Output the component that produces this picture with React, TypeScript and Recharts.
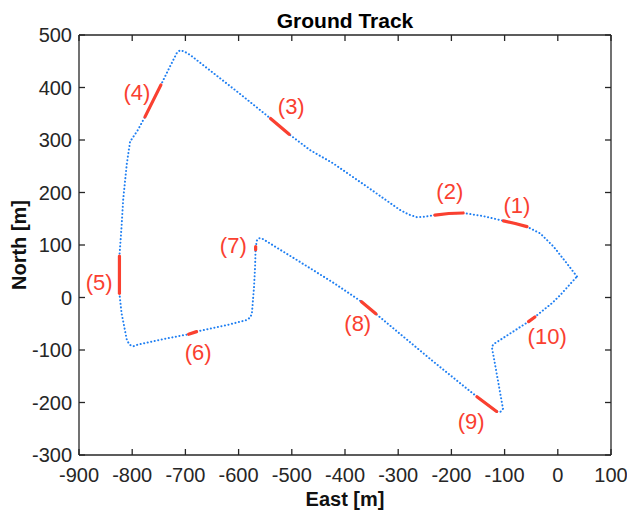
import React from "react";
import {
  ComposedChart,
  Line,
  Scatter,
  XAxis,
  YAxis,
  Label,
} from "recharts";

// ground track, east/north in metres
const trackEast = [
  36, 17, -8, -33, -58, -80, -102, -140, -178, -205, -231, -250, -265, -280, -297, -360, -423, -466,
  -505, -540, -600, -691, -703, -710, -716, -729, -746, -776, -790, -804, -810, -817, -820, -824,
  -824, -820, -810, -805, -798, -790, -740, -694, -679, -620, -585, -578, -575, -571, -569, -568,
  -566, -562, -557, -485, -420, -369, -342, -234, -152, -115, -108, -103, -115, -124, -121, -55,
  -43, -10, 0, 5, 36,
];
const trackNorth = [
  40, 65, 97, 122, 135, 141, 146, 155, 161, 160, 157, 154, 153, 158, 167, 212, 256, 281,
  311, 341, 390, 462, 469, 471, 466, 440, 405, 344, 318, 297, 256, 186, 135, 79,
  8, -30, -81, -90, -93, -90, -79, -70, -65, -52, -43, -38, -30, 20, 59, 94,
  108, 113, 113, 68, 27, -8, -31, -122, -189, -217, -218, -212, -144, -94, -89, -46,
  -37, -10, 0, 5, 40,
];

// highlighted stretches: [east, north] pairs
const seg1 = [[-58, 135], [-80, 141], [-102, 146]];
const seg2 = [[-231, 157], [-205, 160], [-178, 161]];
const seg3 = [[-540, 341], [-505, 311]];
const seg4 = [[-776, 344], [-746, 405]];
const seg5 = [[-824, 79], [-824, 8]];
const seg6 = [[-694, -70], [-679, -65]];
const seg7 = [[-568, 97], [-568, 91]];
const seg8 = [[-369, -8], [-342, -31]];
const seg9 = [[-152, -189], [-115, -217]];
const seg10 = [[-55, -46], [-43, -37]];

const labelNames = ["(1)", "(2)", "(3)", "(4)", "(5)", "(6)", "(7)", "(8)", "(9)", "(10)"];
const labelEast = [-77, -203, -501, -791, -862, -676, -610, -376, -163, -20];
const labelNorth = [176, 201, 363, 391, 28, -104, 100, -50, -237, -75];

const xTicks = [-900, -800, -700, -600, -500, -400, -300, -200, -100, 0, 100];
const yTicks = [-300, -200, -100, 0, 100, 200, 300, 400, 500];

const BLUE = "#1f7ff2";
const RED = "#fa4030";
const AXIS = "#262626";

const track = trackEast.map((x, i) => ({ x, y: trackNorth[i] }));
const segments = [seg1, seg2, seg3, seg4, seg5, seg6, seg7, seg8, seg9, seg10].map((s) =>
  s.map(([x, y]) => ({ x, y }))
);
const labels = labelNames.map((name, i) => ({ x: labelEast[i], y: labelNorth[i], name }));

const axisStroke = { stroke: AXIS, strokeWidth: 1.3 };

export default function App() {
  return (
    <div
      style={{
        position: "absolute",
        left: 0,
        top: 0,
        width: 627,
        height: 510,
        background: "#fff",
        fontFamily: "'Liberation Sans', Arial, sans-serif",
      }}
    >
      <ComposedChart width={627} height={510} margin={{ top: 34, right: 15, bottom: 0, left: 0 }}>
        <XAxis
          xAxisId="b"
          dataKey="x"
          type="number"
          domain={[-900, 100]}
          ticks={xTicks}
          allowDataOverflow
          height={55}
          tickSize={-6}
          tickMargin={19}
          axisLine={axisStroke}
          tickLine={axisStroke}
          tick={{ fontSize: 20, fill: AXIS }}
        >
          <Label
            value="East [m]"
            position="insideBottom"
            offset={4}
            fontSize={20}
            fontWeight="bold"
            fill="#111"
          />
        </XAxis>
        <XAxis
          xAxisId="t"
          dataKey="x"
          orientation="top"
          type="number"
          domain={[-900, 100]}
          ticks={xTicks}
          allowDataOverflow
          height={1}
          tickSize={-6}
          tickFormatter={() => ""}
          axisLine={axisStroke}
          tickLine={axisStroke}
        >
          <Label
            value="Ground Track"
            position="top"
            offset={6}
            fontSize={21}
            fontWeight="bold"
            fill="#000"
          />
        </XAxis>
        <YAxis
          yAxisId="l"
          type="number"
          domain={[-300, 500]}
          ticks={yTicks}
          allowDataOverflow
          width={79}
          tickSize={-6}
          tickMargin={13}
          axisLine={axisStroke}
          tickLine={axisStroke}
          tick={{ fontSize: 20, fill: AXIS }}
        >
          <Label
            value="North [m]"
            angle={-90}
            position="insideLeft"
            offset={19}
            fontSize={20}
            fontWeight="bold"
            fill="#111"
            style={{ textAnchor: "middle" }}
          />
        </YAxis>
        <YAxis
          yAxisId="r"
          orientation="right"
          type="number"
          domain={[-300, 500]}
          ticks={yTicks}
          allowDataOverflow
          width={1}
          tickSize={-6}
          tickFormatter={() => ""}
          axisLine={axisStroke}
          tickLine={axisStroke}
        />

        {/* invisible copy so the top and right frame axes have a series */}
        <Line
          xAxisId="t"
          yAxisId="r"
          data={track}
          dataKey="y"
          stroke="none"
          dot={false}
          activeDot={false}
          isAnimationActive={false}
        />
        <Line
          xAxisId="b"
          yAxisId="l"
          data={track}
          dataKey="y"
          type="linear"
          stroke={BLUE}
          strokeWidth={2}
          strokeDasharray="0.1 3.5"
          strokeLinecap="round"
          dot={false}
          activeDot={false}
          isAnimationActive={false}
        />
        {segments.map((s, i) => (
          <Line
            key={i}
            xAxisId="b"
            yAxisId="l"
            data={s}
            dataKey="y"
            type="linear"
            stroke={RED}
            strokeWidth={3.2}
            strokeLinecap="round"
            dot={false}
            activeDot={false}
            isAnimationActive={false}
          />
        ))}
        <Scatter
          xAxisId="b"
          yAxisId="l"
          data={labels}
          dataKey="y"
          isAnimationActive={false}
          shape={(p: any) => (
            <text
              x={p.cx}
              y={p.cy}
              textAnchor="middle"
              dominantBaseline="central"
              fontSize={22}
              fill={RED}
            >
              {p.payload.name}
            </text>
          )}
        />
      </ComposedChart>
    </div>
  );
}
